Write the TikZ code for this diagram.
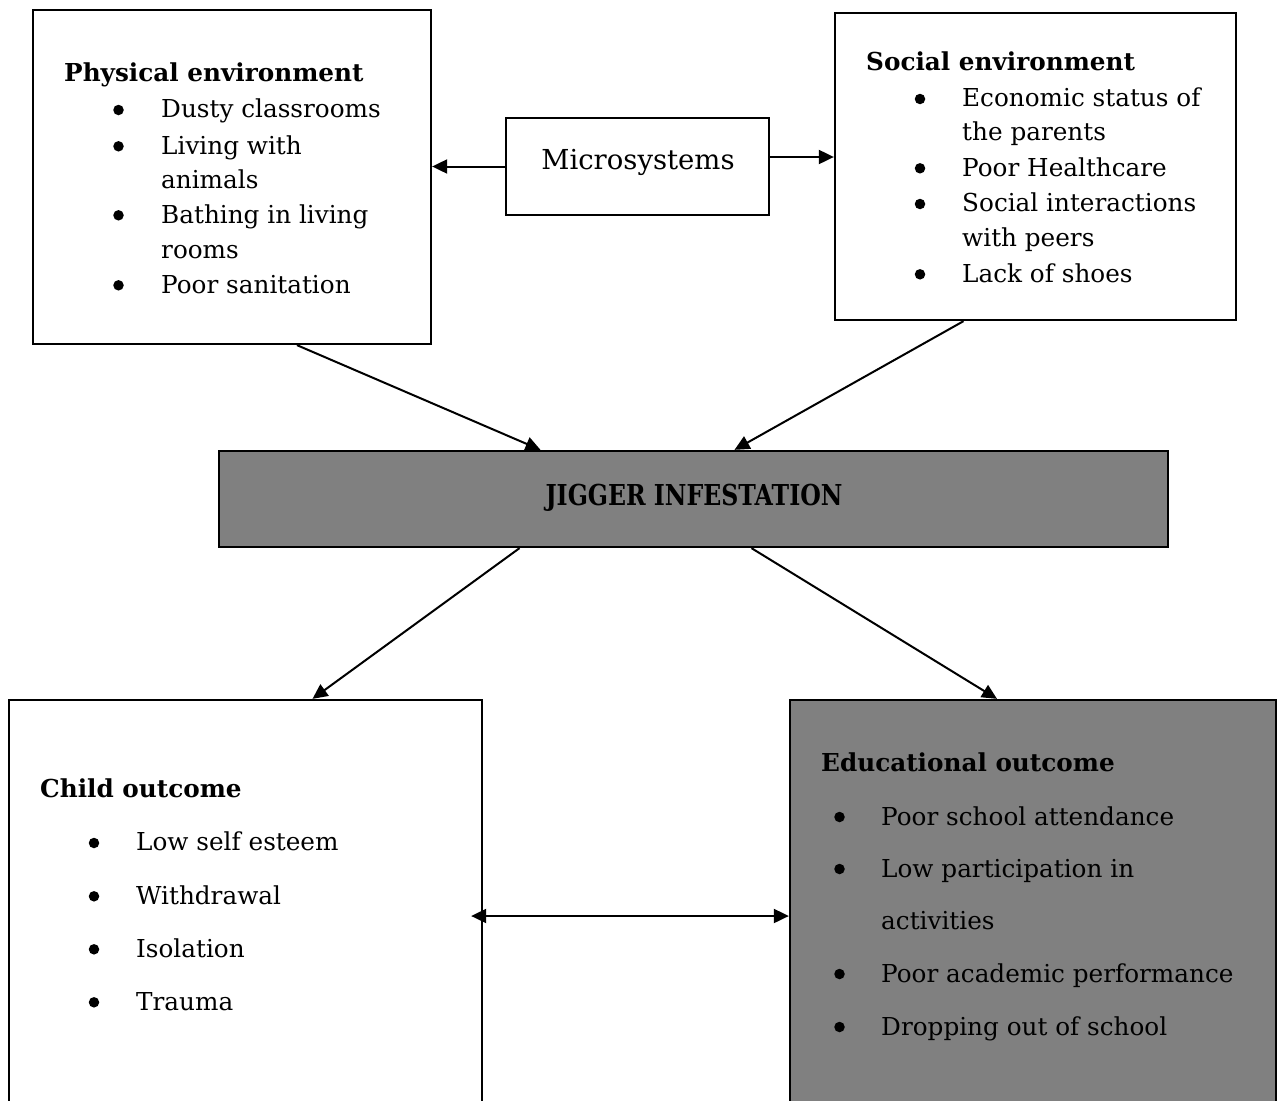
\documentclass[tikz,border=0pt]{standalone}
\usepackage{fontspec}
\setmainfont{DejaVu Serif}
\usetikzlibrary{arrows.meta}

\definecolor{boxgray}{RGB}{128,128,128}

\tikzset{
  box/.style={draw, line width=2.3pt, inner sep=0pt},
  shaded/.style={box, fill=boxgray},
  txt/.style={anchor=base west, inner sep=0pt, font=\fontsize{24.7}{30}\selectfont},
  head/.style={anchor=base west, inner sep=0pt, font=\fontsize{24.7}{30}\selectfont\bfseries},
  dot/.style={circle, fill, inner sep=0pt, minimum size=10.5pt},
  arr/.style={line width=2pt, -{Triangle[length=15pt,width=14pt]}},
}

\begin{document}
\begin{tikzpicture}[x=1pt,y=-1pt]

    % Page frame
    \useasboundingbox (0,0) rectangle (1281,1100);
    \clip (0,0) rectangle (1281,1100);

    % Boxes
    \node[box, minimum width=398pt, minimum height=334pt] (phys) at (232,177) {};
    \node[box, minimum width=263pt, minimum height=97pt] (micro) at (637.5,166.5) {};
    \node[box, minimum width=401pt, minimum height=307pt] (soc) at (1035.5,166.5) {};
    \node[shaded, minimum width=949pt, minimum height=96pt] (jig) at (693.5,499) {};
    \node[box, minimum width=473pt, minimum height=432pt] (child) at (245.5,916) {};
    \node[shaded, minimum width=486pt, minimum height=432pt] (edu) at (1033,916) {};

    % Microsystems label
    \node[anchor=base, inner sep=0pt, font=\fontsize{27.5}{33}\selectfont] (micro-t) at (638,169) {Microsystems};

    % Jigger label
    \node[anchor=base, inner sep=0pt, font=\fontsize{28.8}{34}\selectfont\bfseries] (jig-t) at (694,505)
        {\scalebox{0.82}[1]{JIGGER INFESTATION}};

    % Physical environment
    \node[head] (phys-t) at (64,81.7) {Physical environment};
    \node[dot] (phys-b1) at (118.5,110) {};
    \node[txt] (phys-1) at (161,117.7) {Dusty classrooms};
    \node[dot] (phys-b2) at (118.5,146.3) {};
    \node[txt] (phys-2) at (161,154) {Living with};
    \node[txt] (phys-3) at (161,188) {animals};
    \node[dot] (phys-b4) at (118.5,215.3) {};
    \node[txt] (phys-4) at (161,223) {Bathing in living};
    \node[txt] (phys-5) at (161,258) {rooms};
    \node[dot] (phys-b6) at (118.5,285.3) {};
    \node[txt] (phys-6) at (161,293) {Poor sanitation};

    % Social environment
    \node[head] (soc-t) at (866,70) {Social environment};
    \node[dot] (soc-b1) at (920,99) {};
    \node[txt] (soc-1) at (962,106.7) {Economic status of};
    \node[txt] (soc-2) at (962,140) {the parents};
    \node[dot] (soc-b3) at (920,168.3) {};
    \node[txt] (soc-3) at (962,176) {Poor Healthcare};
    \node[dot] (soc-b4) at (920,204) {};
    \node[txt] (soc-4) at (962,211.7) {Social interactions};
    \node[txt] (soc-5) at (962,246.7) {with peers};
    \node[dot] (soc-b6) at (920,274.3) {};
    \node[txt] (soc-6) at (962,282) {Lack of shoes};

    % Child outcome
    \node[head] (child-t) at (40,797) {Child outcome};
    \node[dot] (child-b1) at (94,843) {};
    \node[txt] (child-1) at (136,850.7) {Low self esteem};
    \node[dot] (child-b2) at (94,896.3) {};
    \node[txt] (child-2) at (136,904) {Withdrawal};
    \node[dot] (child-b3) at (94,949.3) {};
    \node[txt] (child-3) at (136,957) {Isolation};
    \node[dot] (child-b4) at (94,1002.3) {};
    \node[txt] (child-4) at (136,1010) {Trauma};

    % Educational outcome
    \node[head] (edu-t) at (821,771.7) {Educational outcome};
    \node[dot] (edu-b1) at (839.5,817) {};
    \node[txt] (edu-1) at (881,825) {Poor school attendance};
    \node[dot] (edu-b2) at (839.5,869) {};
    \node[txt] (edu-2) at (881,877) {Low participation in};
    \node[txt] (edu-3) at (881,929) {activities};
    \node[dot] (edu-b4) at (839.5,974) {};
    \node[txt] (edu-4) at (881,982) {Poor academic performance};
    \node[dot] (edu-b5) at (839.5,1027) {};
    \node[txt] (edu-5) at (881,1035) {Dropping out of school};

    % Arrows from microsystems
    \draw[arr] (micro.west) -- (micro.west -| phys.east);
    \draw[arr] ([yshift=9.5pt]micro.east) -- ([yshift=9.5pt]micro.east -| soc.west);

    % Arrows into jigger infestation
    \draw[arr] ([xshift=65pt]phys.south) -- ([xshift=-153pt]jig.north);
    \draw[arr] ([xshift=-72pt]soc.south) -- ([xshift=41pt]jig.north);

    % Arrows to outcomes
    \draw[arr] ([xshift=-174pt]jig.south) -- ([xshift=67pt]child.north);
    \draw[arr] ([xshift=58pt]jig.south) -- ([xshift=-36pt]edu.north);

    % Link between outcomes
    \draw[arr, {Triangle[length=15pt,width=14pt]}-{Triangle[length=15pt,width=14pt]}]
        ([xshift=-12pt]child.east) -- (edu.west);

\end{tikzpicture}
\end{document}
